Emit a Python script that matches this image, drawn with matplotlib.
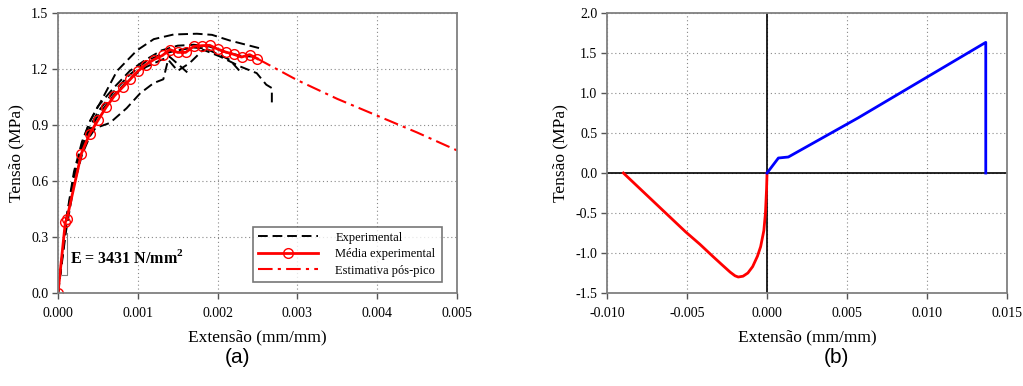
import matplotlib
matplotlib.use("Agg")
import matplotlib.pyplot as plt
from matplotlib.ticker import FormatStrFormatter

plt.rcParams['font.family'] = ['Liberation Serif', 'DejaVu Serif']
plt.rcParams['axes.unicode_minus'] = False
plt.rcParams['mathtext.fontset'] = 'custom'
plt.rcParams['mathtext.bf'] = 'Liberation Serif:bold'

# (a) experimental curves (strain, stress MPa)
exp_top_x = [0, 0.0001, 0.0002, 0.0003, 0.0004, 0.00053, 0.00074, 0.00099, 0.0012, 0.00145, 0.00174, 0.00193, 0.00215, 0.00252]
exp_top_y = [0, 0.36, 0.62, 0.80, 0.92, 1.02, 1.19, 1.30, 1.36, 1.385, 1.389, 1.383, 1.353, 1.312]
exp_a_x = [0, 0.0001, 0.0002, 0.0003, 0.0004, 0.00047, 0.00065, 0.00086, 0.00103, 0.0012, 0.00132, 0.00138, 0.0015, 0.00165, 0.00182, 0.00203, 0.00228, 0.00249, 0.00261, 0.00268, 0.00268]
exp_a_y = [0, 0.33, 0.58, 0.74, 0.84, 0.884, 0.911, 0.99, 1.07, 1.125, 1.145, 1.25, 1.19, 1.232, 1.303, 1.267, 1.214, 1.178, 1.116, 1.098, 1.0]
exp_b_x = [0, 0.0001, 0.0002, 0.0003, 0.0004, 0.0005, 0.0007, 0.0009, 0.0011, 0.0013, 0.0014, 0.00152, 0.00163]
exp_b_y = [0, 0.37, 0.62, 0.77, 0.87, 0.95, 1.06, 1.15, 1.21, 1.25, 1.265, 1.22, 1.178]
exp_c_x = [0, 0.0001, 0.0002, 0.0003, 0.0004, 0.0005, 0.0007, 0.0009, 0.0011, 0.0013, 0.0015, 0.0017, 0.00185, 0.002, 0.00215, 0.0023]
exp_c_y = [0, 0.38, 0.63, 0.78, 0.89, 0.97, 1.08, 1.17, 1.24, 1.28, 1.30, 1.315, 1.31, 1.28, 1.25, 1.178]
exp_d_x = [0, 0.0001, 0.0002, 0.0003, 0.0004, 0.0005, 0.0007, 0.0009, 0.0011, 0.0013, 0.0015, 0.0017, 0.0019, 0.0021, 0.0023, 0.0025]
exp_d_y = [0, 0.39, 0.65, 0.81, 0.92, 1.00, 1.10, 1.19, 1.25, 1.30, 1.325, 1.33, 1.32, 1.29, 1.27, 1.265]

# mean experimental curve
mean_x = [0, 0.0000917, 0.000112, 0.000292, 0.000396, 0.0005, 0.000604, 0.000708, 0.000813, 0.000908, 0.001, 0.0011, 0.0012,
          0.00131, 0.0014, 0.0015, 0.0016, 0.0017, 0.0018, 0.0019, 0.002, 0.0021, 0.0022, 0.0023, 0.0024, 0.0025]
mean_y = [0, 0.379, 0.398, 0.746, 0.852, 0.925, 0.996, 1.057, 1.104, 1.146, 1.188, 1.223, 1.25,
          1.273, 1.304, 1.289, 1.289, 1.321, 1.325, 1.327, 1.307, 1.291, 1.279, 1.264, 1.277, 1.255]

# post-peak estimate
post_x = [0.0025, 0.003, 0.0035, 0.004, 0.0045, 0.005]
post_y = [1.255, 1.14, 1.04, 0.95, 0.86, 0.764]

# (b) constitutive law
comp_x = [-0.00898, -0.00508, -0.0042, -0.0034, -0.0028, -0.0023, -0.0020, -0.0018, -0.0015, -0.0012, -0.0009,
          -0.0006, -0.0004, -0.0002, -0.0001, -0.00003, 0]
comp_y = [0, -0.7375, -0.89, -1.04, -1.15, -1.24, -1.285, -1.30, -1.29, -1.25, -1.17,
          -1.04, -0.92, -0.72, -0.5, -0.2, 0]
tens_x = [0, 0.00071, 0.00133, 0.0057, 0.01367, 0.01367]
tens_y = [0, 0.1875, 0.2, 0.69, 1.633, 0]

GRAY = '#808080'


def style(ax):
    for s in ax.spines.values():
        s.set_color(GRAY)
        s.set_linewidth(1.3)
    ax.tick_params(direction='out', length=4, width=1, color='#555555', labelsize=10)
    ax.tick_params(axis='x', pad=6)
    ax.tick_params(axis='y', pad=3)
    ax.grid(True, linestyle=(0, (1, 2.5)), color='#888888', linewidth=0.8)
    ax.set_axisbelow(True)


fig = plt.figure(figsize=(10.23, 3.86), dpi=100)
ax1 = fig.add_axes([0.0567, 0.2409, 0.39, 0.7254])
ax2 = fig.add_axes([0.5934, 0.2409, 0.391, 0.7254])

# ---- (a)
style(ax1)
dash = (0, (5, 2.5))
for xs, ys in [(exp_top_x, exp_top_y), (exp_a_x, exp_a_y), (exp_b_x, exp_b_y), (exp_c_x, exp_c_y), (exp_d_x, exp_d_y)]:
    ax1.plot(xs, ys, color='black', linestyle=dash, linewidth=1.4)
ax1.plot([], [], color='black', linestyle=dash, linewidth=1.4, label='Experimental')
ax1.plot(mean_x, mean_y, color='red', linewidth=2, marker='o', markersize=7,
         markerfacecolor='none', markeredgewidth=1, label='Média experimental')
ax1.plot(post_x, post_y, color='red', linestyle=(0, (7, 2.5, 1.5, 2.5)), linewidth=1.5, label='Estimativa pós-pico')

# slope indicator
ax1.plot([0.0001125, 0.0001125, 0.00005], [0.32, 0.098, 0.098], color=GRAY, linewidth=0.8)
ax1.text(0.000155, 0.19, r'E = 3431 N/mm$^\mathbf{2}$', fontsize=11.5, fontweight='bold', va='center')

ax1.set_xlim(0, 0.005)
ax1.set_ylim(0, 1.5)
ax1.set_xticks([0, 0.001, 0.002, 0.003, 0.004, 0.005])
ax1.set_yticks([0, 0.3, 0.6, 0.9, 1.2, 1.5])
ax1.xaxis.set_major_formatter(FormatStrFormatter('%.3f'))
ax1.yaxis.set_major_formatter(FormatStrFormatter('%.1f'))
ax1.set_xlabel('Extensão (mm/mm)', fontsize=12.5, labelpad=7)
ax1.set_ylabel('Tensão (MPa)', fontsize=12.5, labelpad=5)
leg = ax1.legend(loc='lower left', bbox_to_anchor=(0.488, 0.041, 0.475, 0.215), mode='expand',
                 fontsize=9, frameon=True, fancybox=False, borderaxespad=0, handlelength=4.8,
                 labelspacing=0.35, handletextpad=1.4)
leg.get_frame().set_edgecolor('#555555')
leg.get_frame().set_linewidth(1.2)

# ---- (b)
style(ax2)
ax2.axhline(0, color='black', linewidth=1.2)
ax2.axvline(0, color='black', linewidth=1.2)
ax2.plot(comp_x, comp_y, color='red', linewidth=2)
ax2.plot(tens_x, tens_y, color='blue', linewidth=2)
ax2.set_xlim(-0.010, 0.015)
ax2.set_ylim(-1.5, 2.0)
ax2.set_xticks([-0.010, -0.005, 0, 0.005, 0.010, 0.015])
ax2.set_yticks([-1.5, -1.0, -0.5, 0, 0.5, 1.0, 1.5, 2.0])
ax2.xaxis.set_major_formatter(FormatStrFormatter('%.3f'))
ax2.yaxis.set_major_formatter(FormatStrFormatter('%.1f'))
ax2.set_xlabel('Extensão (mm/mm)', fontsize=12.5, labelpad=7)
ax2.set_ylabel('Tensão (MPa)', fontsize=12.5, labelpad=5)

fig.text(0.2317, 0.073, '(a)', fontsize=15, family=['Liberation Sans', 'DejaVu Sans'], ha='center', va='center')
fig.text(0.818, 0.073, '(b)', fontsize=15, family=['Liberation Sans', 'DejaVu Sans'], ha='center', va='center')

fig.savefig('out.png', dpi=100)
